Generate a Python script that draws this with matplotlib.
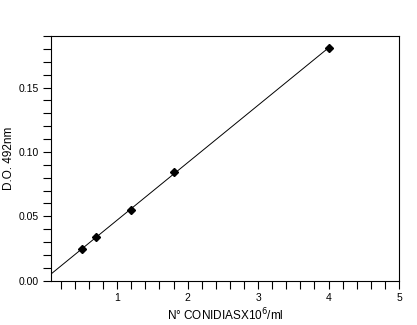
import numpy as np
import matplotlib
matplotlib.use("Agg")
import matplotlib.pyplot as plt
from matplotlib.ticker import MultipleLocator

# conidia concentration (x10^6/ml) vs optical density at 492 nm
conidia = [0.5, 0.7, 1.2, 1.8, 4.0]
od492 = [0.0245, 0.0343, 0.0546, 0.0842, 0.1806]

x_ticks = [1, 2, 3, 4, 5]
y_ticks = [0.00, 0.05, 0.10, 0.15]
y_tick_labels = ["0.00", "0.05", "0.10", "0.15"]

plt.rcParams['font.family'] = ['Liberation Sans', 'DejaVu Sans']

fig = plt.figure(figsize=(4.17, 3.25), dpi=100)
ax = fig.add_axes([0.1223, 0.1363, 0.8345, 0.7527])

# linear fit, drawn from the left edge up to the last point
slope, intercept = np.polyfit(conidia, od492, 1)
x0 = 0.06
xfit = np.array([x0, max(conidia)])
ax.plot(xfit, slope * xfit + intercept, color='black', lw=0.7)
ax.plot(conidia, od492, linestyle='none', marker='D', ms=4, color='black')

ax.set_xlim(x0, 5)
ax.set_ylim(0, 0.19)
ax.set_xticks(x_ticks)
ax.set_yticks(y_ticks)
ax.set_yticklabels(y_tick_labels)
ax.xaxis.set_minor_locator(MultipleLocator(0.2))
ax.yaxis.set_minor_locator(MultipleLocator(0.01))

ax.tick_params(which='both', direction='out', length=6, width=0.8,
               top=False, right=False, labelsize=7.5, color='black')
ax.tick_params(axis='x', pad=3)
ax.tick_params(axis='y', pad=3)

for sp in ax.spines.values():
    sp.set_linewidth(0.8)
    sp.set_color('black')

ax.set_ylabel('D.O. 492nm', fontsize=8.5)
ax.yaxis.set_label_coords(-0.103, 0.5)
ax.set_xlabel(r'N° CONIDIASX10$^6$/ml', fontsize=8.5)
ax.xaxis.set_label_coords(0.5, -0.105)

fig.savefig('out.png', dpi=100)
